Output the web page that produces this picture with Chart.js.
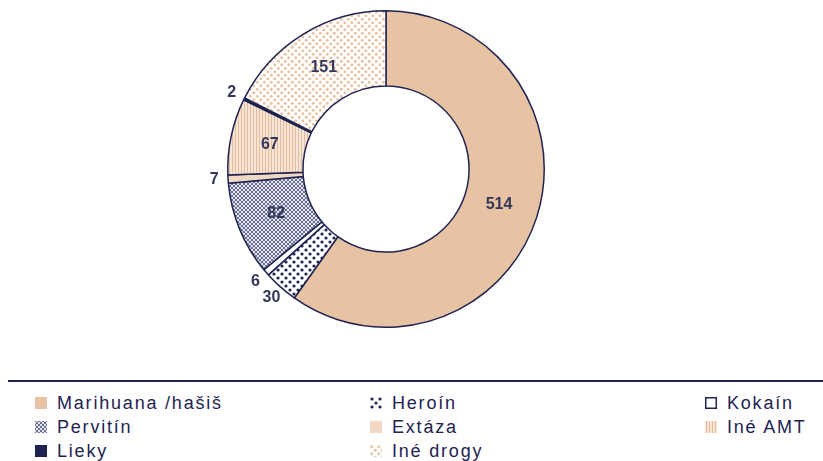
<!DOCTYPE html>
<html>
<head>
<meta charset="utf-8">
<script src="https://cdn.jsdelivr.net/npm/chart.js@4.4.1/dist/chart.umd.min.js"></script>
<style>
  html, body { margin: 0; padding: 0; background: #fff; }
  body { width: 823px; height: 461px; position: relative; overflow: hidden; font-family: "Liberation Sans", Arial, sans-serif; }
  #wrap { position: absolute; left: 0; top: 0; width: 823px; height: 345px; }
  #rule { position: absolute; left: 8px; right: 0; top: 380px; height: 2px; background: #1e2352; }
  .lg { position: absolute; font-size: 18px; letter-spacing: 1.8px; color: #1e2352; line-height: 20px; white-space: nowrap; }
  .lg canvas { position: absolute; left: -22px; top: 4px; }
</style>
</head>
<body>
<div id="wrap"><canvas id="c"></canvas></div>
<div id="rule"></div>
<div id="legend"></div>
<script>
// ---- data ----
const categories = ["Marihuana /hašiš", "Heroín", "Kokaín", "Pervitín", "Extáza", "Iné AMT", "Lieky", "Iné drogy"];
const values = [514, 30, 6, 82, 7, 67, 2, 151];
// legend order (3 columns, row-major)
const legendOrder = ["Marihuana /hašiš", "Heroín", "Kokaín", "Pervitín", "Extáza", "Iné AMT", "Lieky", "Iné drogy"];

const NAVY = '#1e2352';
const PEACH = '#e7c3a4';

function tile(w, h, draw) {
  const cv = document.createElement('canvas');
  cv.width = w; cv.height = h;
  const g = cv.getContext('2d');
  draw(g, w, h);
  return cv;
}
const tiles = {
  "Marihuana /hašiš": tile(4, 4, (g) => { g.fillStyle = PEACH; g.fillRect(0, 0, 4, 4); }),
  "Heroín": tile(8, 8, (g) => {
    g.fillStyle = '#fff'; g.fillRect(0, 0, 8, 8);
    g.fillStyle = NAVY;
    [[2, 2], [6, 6]].forEach(([x, y]) => { g.beginPath(); g.arc(x, y, 1.6, 0, Math.PI * 2); g.fill(); });
  }),
  "Kokaín": tile(4, 4, (g) => { g.fillStyle = '#fff'; g.fillRect(0, 0, 4, 4); }),
  "Pervitín": tile(4, 4, (g) => {
    g.fillStyle = '#e4e5ee'; g.fillRect(0, 0, 4, 4);
    g.strokeStyle = '#4a4f78'; g.lineWidth = 0.8;
    g.beginPath(); g.moveTo(0, 0); g.lineTo(4, 4); g.moveTo(0, 4); g.lineTo(4, 0); g.stroke();
  }),
  "Extáza": tile(4, 4, (g) => { g.fillStyle = '#f0d9c3'; g.fillRect(0, 0, 4, 4); }),
  "Iné AMT": tile(3, 3, (g) => {
    g.fillStyle = '#f6e4d4'; g.fillRect(0, 0, 3, 3);
    g.fillStyle = '#e3bd9d'; g.fillRect(1, 0, 1, 3);
  }),
  "Lieky": tile(4, 4, (g) => { g.fillStyle = NAVY; g.fillRect(0, 0, 4, 4); }),
  "Iné drogy": tile(7, 7, (g) => {
    g.fillStyle = '#fff'; g.fillRect(0, 0, 7, 7);
    g.fillStyle = '#ebc2a2';
    [[1.75, 1.75], [5.25, 5.25]].forEach(([x, y]) => { g.beginPath(); g.arc(x, y, 1.5, 0, Math.PI * 2); g.fill(); });
  })
};

const cv = document.getElementById('c');
const ctx = cv.getContext('2d');
const fills = categories.map(c => ctx.createPattern(tiles[c], 'repeat'));

const labelPlugin = {
  id: 'sliceLabels',
  afterDatasetsDraw(chart) {
    const meta = chart.getDatasetMeta(0);
    const c = chart.ctx;
    c.save();
    c.font = 'bold 16px "Liberation Sans", Arial, sans-serif';
    c.fillStyle = '#333759';
    c.textAlign = 'center';
    c.textBaseline = 'middle';
    meta.data.forEach((arc, i) => {
      const p = arc.getProps(['x', 'y', 'startAngle', 'endAngle', 'innerRadius', 'outerRadius'], true);
      const mid = (p.startAngle + p.endAngle) / 2;
      let r;
      if (values[i] < 40) r = p.outerRadius + 14;
      else r = (p.innerRadius + p.outerRadius) / 2 - 2;
      c.fillText(String(values[i]), p.x + Math.cos(mid) * r, p.y + Math.sin(mid) * r);
    });
    c.restore();
  }
};

new Chart(cv, {
  type: 'doughnut',
  data: {
    labels: categories,
    datasets: [{
      data: values,
      backgroundColor: fills,
      borderColor: NAVY,
      borderWidth: 1.5,
      hoverOffset: 0
    }]
  },
  options: {
    responsive: true,
    maintainAspectRatio: false,
    animation: false,
    cutout: '52.5%',
    layout: { padding: { top: 10, bottom: 17, left: 0, right: 51 } },
    plugins: { legend: { display: false }, tooltip: { enabled: false } }
  },
  plugins: [labelPlugin]
});

// ---- legend (HTML) ----
const colX = [57, 392, 727];
const rowY = [393, 417, 441];
const lg = document.getElementById('legend');
legendOrder.forEach((name, k) => {
  const col = k % 3, row = Math.floor(k / 3);
  const d = document.createElement('div');
  d.className = 'lg';
  d.style.left = colX[col] + 'px';
  d.style.top = rowY[row] + 'px';
  const sw = document.createElement('canvas');
  sw.width = 12; sw.height = 12;
  const g = sw.getContext('2d');
  g.fillStyle = g.createPattern(tiles[name], 'repeat');
  g.fillRect(0, 0, 12, 12);
  if (name === 'Kokaín') { g.strokeStyle = NAVY; g.lineWidth = 1.5; g.strokeRect(0.75, 0.75, 10.5, 10.5); }
  d.appendChild(sw);
  d.appendChild(document.createTextNode(name));
  lg.appendChild(d);
});
</script>
</body>
</html>
